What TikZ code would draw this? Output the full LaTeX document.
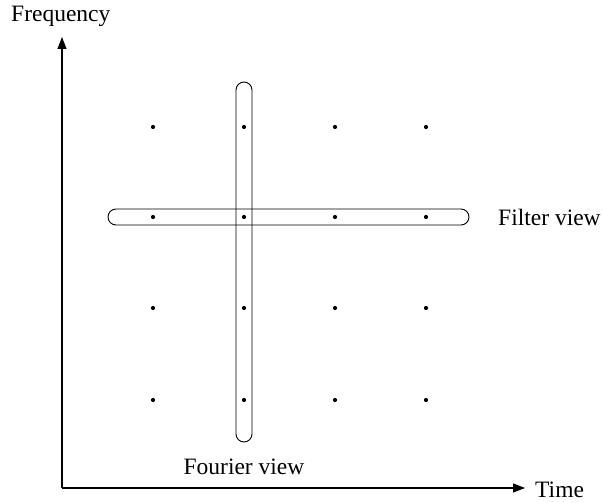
\documentclass[tikz,border=0pt]{standalone}
\usepackage{fontspec}
\setmainfont{Liberation Serif}
\usetikzlibrary{arrows.meta}
\begin{document}
\begin{tikzpicture}[x=1pt,y=1pt,
  axis/.style={line width=1.1pt,-{Triangle[length=12pt,width=9pt]}},
  dot/.style={circle,fill=black,inner sep=0pt,minimum size=4.2pt},
  band/.style={draw,line width=0.9pt,rounded corners=8pt,inner sep=0pt},
  lbl/.style={inner sep=0pt,font=\fontsize{23.5}{28}\selectfont}]
\useasboundingbox (0,0) rectangle (603,503);
\coordinate (O) at (62,15);
\coordinate (ytop) at (62,466);
\coordinate (xend) at (525,15);
\draw[axis] (O) -- (ytop);
\draw[axis] (O) -- (xend);
\node[lbl,anchor=west] (freq) at (11,487) {Frequency};
\node[lbl,anchor=west] (time) at (535,13) {Time};
\foreach \i/\x in {1/153,2/244,3/335,4/426}
  \foreach \j/\y in {1/127,2/217,3/308,4/400}
    \node[dot] (d\i\j) at (\x,503-\y) {};
\node[band,minimum width=16pt,minimum height=360pt] (fourierband) at (244,503-262) {};
\node[band,minimum width=361pt,minimum height=16pt] (filterband) at (288.5,503-217) {};
\node[lbl] (fourier) at (244,503-467) {Fourier view};
\node[lbl,anchor=west] (filter) at (498,503-217) {Filter view};
\end{tikzpicture}
\end{document}
